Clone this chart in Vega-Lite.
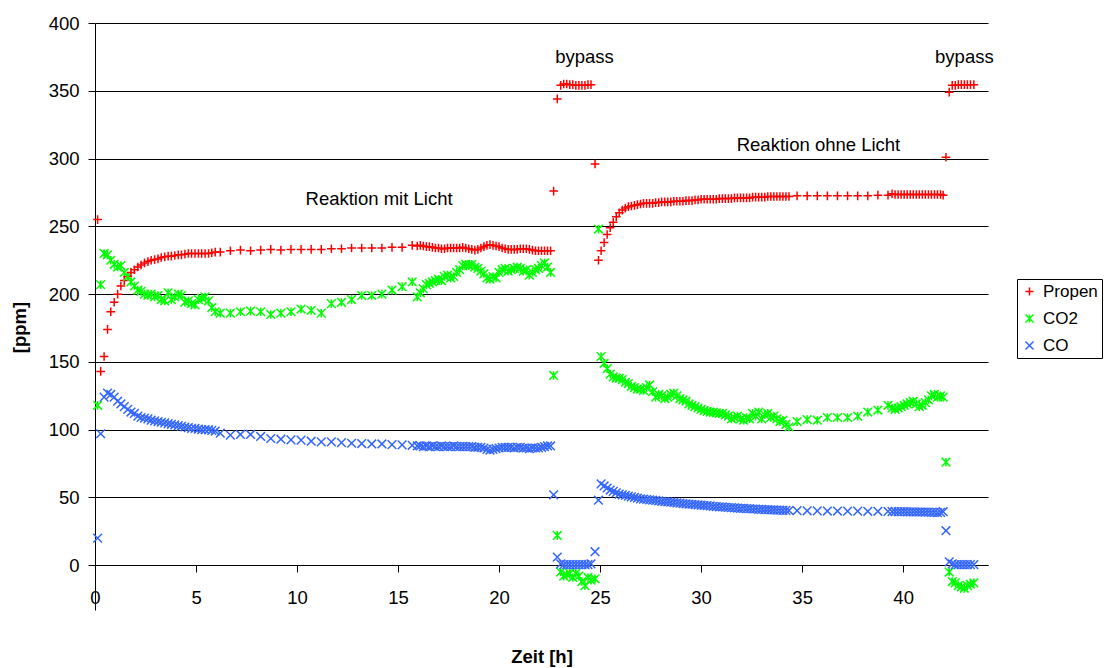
{
"$schema":"https://vega.github.io/schema/vega-lite/v6.json",
"width":893,"height":587,
"autosize":{"type":"none"},
"padding":{"left":95,"top":23,"right":118,"bottom":58},
"background":"white",
"config":{"view":{"stroke":null},"font":"Liberation Sans"},
"datasets":{
"meas":[
{"t":0.13,"Propen":255,"CO2":118,"CO":20},
{"t":0.28,"Propen":143,"CO2":207,"CO":97},
{"t":0.45,"Propen":154,"CO2":230,"CO":124},
{"t":0.62,"Propen":174,"CO2":229,"CO":127},
{"t":0.78,"Propen":187,"CO2":225,"CO":126},
{"t":0.95,"Propen":194,"CO2":222,"CO":124},
{"t":1.12,"Propen":200,"CO2":220,"CO":121},
{"t":1.28,"Propen":206,"CO2":221,"CO":119},
{"t":1.45,"Propen":210,"CO2":216,"CO":117},
{"t":1.62,"Propen":213,"CO2":213,"CO":115},
{"t":1.78,"Propen":216,"CO2":209,"CO":113},
{"t":1.95,"Propen":218,"CO2":206,"CO":112},
{"t":2.12,"Propen":220,"CO2":203,"CO":110},
{"t":2.28,"Propen":221.5,"CO2":202,"CO":109},
{"t":2.45,"Propen":223,"CO2":200,"CO":108.5},
{"t":2.62,"Propen":224,"CO2":199,"CO":108},
{"t":2.78,"Propen":225,"CO2":200,"CO":107},
{"t":2.95,"Propen":225.5,"CO2":198,"CO":106.5},
{"t":3.12,"Propen":226,"CO2":199,"CO":106},
{"t":3.28,"Propen":227,"CO2":196,"CO":105.5},
{"t":3.45,"Propen":227.5,"CO2":195,"CO":105},
{"t":3.62,"Propen":228,"CO2":201,"CO":104.5},
{"t":3.78,"Propen":228,"CO2":196,"CO":104},
{"t":3.95,"Propen":228.5,"CO2":198,"CO":103.5},
{"t":4.12,"Propen":229,"CO2":200,"CO":103},
{"t":4.28,"Propen":229,"CO2":199,"CO":102.5},
{"t":4.45,"Propen":229.5,"CO2":194,"CO":102},
{"t":4.62,"Propen":230,"CO2":195,"CO":101.5},
{"t":4.78,"Propen":230,"CO2":193,"CO":101},
{"t":4.95,"Propen":230,"CO2":192,"CO":101},
{"t":5.12,"Propen":230,"CO2":196,"CO":100.5},
{"t":5.28,"Propen":230,"CO2":197,"CO":100},
{"t":5.45,"Propen":230,"CO2":198,"CO":100},
{"t":5.62,"Propen":230,"CO2":195,"CO":100},
{"t":5.78,"Propen":230.5,"CO2":190,"CO":99.5},
{"t":5.95,"Propen":231,"CO2":187,"CO":99},
{"t":6.2,"Propen":231,"CO2":186,"CO":97.5},
{"t":6.7,"Propen":232,"CO2":186,"CO":96},
{"t":7.2,"Propen":232.5,"CO2":187,"CO":96.5},
{"t":7.7,"Propen":232,"CO2":187.5,"CO":96.5},
{"t":8.2,"Propen":232.5,"CO2":187,"CO":95},
{"t":8.7,"Propen":233,"CO2":185,"CO":93.5},
{"t":9.2,"Propen":232.5,"CO2":186,"CO":93},
{"t":9.7,"Propen":233,"CO2":187,"CO":92.5},
{"t":10.2,"Propen":233,"CO2":189,"CO":92.3},
{"t":10.7,"Propen":233,"CO2":188,"CO":91.5},
{"t":11.2,"Propen":233,"CO2":186,"CO":91},
{"t":11.7,"Propen":233.5,"CO2":193,"CO":91},
{"t":12.2,"Propen":233.5,"CO2":194,"CO":90.5},
{"t":12.7,"Propen":234,"CO2":196,"CO":90},
{"t":13.2,"Propen":234,"CO2":199,"CO":89.8},
{"t":13.7,"Propen":234,"CO2":199,"CO":89.5},
{"t":14.2,"Propen":234,"CO2":200,"CO":89.5},
{"t":14.7,"Propen":234.5,"CO2":203,"CO":89},
{"t":15.2,"Propen":234.5,"CO2":205.5,"CO":88.8},
{"t":15.7,"Propen":236,"CO2":209,"CO":88.5},
{"t":15.95,"Propen":235.5,"CO2":198,"CO":88},
{"t":16.1,"Propen":236,"CO2":201,"CO":88},
{"t":16.25,"Propen":235.5,"CO2":204,"CO":87.5},
{"t":16.4,"Propen":235,"CO2":207,"CO":88},
{"t":16.55,"Propen":235,"CO2":208,"CO":87.5},
{"t":16.7,"Propen":234.5,"CO2":209,"CO":88},
{"t":16.85,"Propen":234,"CO2":210,"CO":87.5},
{"t":17.0,"Propen":234,"CO2":211,"CO":87.5},
{"t":17.15,"Propen":233.5,"CO2":210,"CO":88},
{"t":17.3,"Propen":233.5,"CO2":213,"CO":87.5},
{"t":17.45,"Propen":234,"CO2":214,"CO":87.5},
{"t":17.6,"Propen":234,"CO2":212,"CO":87.5},
{"t":17.75,"Propen":234,"CO2":213,"CO":88},
{"t":17.9,"Propen":234,"CO2":216,"CO":87.5},
{"t":18.05,"Propen":234,"CO2":218,"CO":87.5},
{"t":18.2,"Propen":234.5,"CO2":221,"CO":87.5},
{"t":18.35,"Propen":234,"CO2":222,"CO":87.5},
{"t":18.5,"Propen":233.5,"CO2":221,"CO":87.5},
{"t":18.65,"Propen":233,"CO2":222,"CO":87.5},
{"t":18.8,"Propen":232.5,"CO2":220,"CO":87},
{"t":18.95,"Propen":233,"CO2":219,"CO":87},
{"t":19.1,"Propen":234,"CO2":217,"CO":87},
{"t":19.25,"Propen":235,"CO2":215,"CO":86.5},
{"t":19.4,"Propen":236,"CO2":212,"CO":85.5},
{"t":19.55,"Propen":236.5,"CO2":211,"CO":85},
{"t":19.7,"Propen":236,"CO2":213,"CO":85.5},
{"t":19.85,"Propen":235.5,"CO2":212,"CO":86},
{"t":20.0,"Propen":235,"CO2":216,"CO":86.5},
{"t":20.15,"Propen":234,"CO2":218,"CO":87},
{"t":20.3,"Propen":233.5,"CO2":219,"CO":87},
{"t":20.45,"Propen":233,"CO2":217,"CO":87},
{"t":20.6,"Propen":233,"CO2":218,"CO":87},
{"t":20.75,"Propen":233,"CO2":219,"CO":86.5},
{"t":20.9,"Propen":233,"CO2":220,"CO":87},
{"t":21.05,"Propen":233.5,"CO2":219,"CO":87},
{"t":21.2,"Propen":233.5,"CO2":217,"CO":86.5},
{"t":21.35,"Propen":233.5,"CO2":218,"CO":86.5},
{"t":21.5,"Propen":233,"CO2":214,"CO":86},
{"t":21.65,"Propen":232.5,"CO2":216,"CO":86.5},
{"t":21.8,"Propen":232,"CO2":218,"CO":86.5},
{"t":21.95,"Propen":232,"CO2":219,"CO":86.5},
{"t":22.1,"Propen":232,"CO2":221,"CO":87},
{"t":22.25,"Propen":232,"CO2":223,"CO":87.5},
{"t":22.4,"Propen":232,"CO2":220,"CO":88},
{"t":22.55,"Propen":232,"CO2":216,"CO":88},
{"t":22.7,"Propen":276,"CO2":140,"CO":52},
{"t":22.88,"Propen":344,"CO2":22,"CO":6},
{"t":23.05,"Propen":354,"CO2":-5,"CO":1},
{"t":23.2,"Propen":355,"CO2":-8,"CO":0.5},
{"t":23.35,"Propen":355,"CO2":-7,"CO":0.5},
{"t":23.5,"Propen":354.5,"CO2":-6,"CO":0.5},
{"t":23.65,"Propen":354.5,"CO2":-9,"CO":0.5},
{"t":23.8,"Propen":354,"CO2":-6,"CO":0.5},
{"t":23.95,"Propen":354,"CO2":-8,"CO":0.5},
{"t":24.1,"Propen":354,"CO2":-12,"CO":0.5},
{"t":24.25,"Propen":354,"CO2":-15,"CO":0.5},
{"t":24.4,"Propen":354.5,"CO2":-9,"CO":0.5},
{"t":24.55,"Propen":354.5,"CO2":-11,"CO":1},
{"t":24.75,"Propen":296,"CO2":-10,"CO":10},
{"t":24.92,"Propen":225,"CO2":248,"CO":48},
{"t":25.05,"Propen":232,"CO2":154,"CO":60},
{"t":25.2,"Propen":238,"CO2":149,"CO":58.5},
{"t":25.35,"Propen":244,"CO2":145,"CO":57},
{"t":25.5,"Propen":249,"CO2":141,"CO":55.5},
{"t":25.65,"Propen":253,"CO2":139,"CO":54.5},
{"t":25.8,"Propen":257,"CO2":138,"CO":53.5},
{"t":25.95,"Propen":260,"CO2":138,"CO":52.5},
{"t":26.1,"Propen":262,"CO2":137,"CO":52},
{"t":26.25,"Propen":263.5,"CO2":135,"CO":51.5},
{"t":26.4,"Propen":264.5,"CO2":134,"CO":51},
{"t":26.55,"Propen":265,"CO2":132,"CO":50.5},
{"t":26.7,"Propen":265.5,"CO2":131,"CO":50},
{"t":26.85,"Propen":266,"CO2":130,"CO":49.5},
{"t":27.0,"Propen":266.5,"CO2":130,"CO":49},
{"t":27.15,"Propen":267,"CO2":129,"CO":48.8},
{"t":27.3,"Propen":267,"CO2":131,"CO":48.5},
{"t":27.45,"Propen":267,"CO2":133,"CO":48.2},
{"t":27.6,"Propen":267,"CO2":128,"CO":48},
{"t":27.75,"Propen":267.5,"CO2":124,"CO":47.8},
{"t":27.9,"Propen":267.5,"CO2":126,"CO":47.5},
{"t":28.05,"Propen":268,"CO2":125,"CO":47.2},
{"t":28.2,"Propen":268,"CO2":123,"CO":47},
{"t":28.35,"Propen":268,"CO2":124,"CO":46.8},
{"t":28.5,"Propen":268,"CO2":126,"CO":46.5},
{"t":28.65,"Propen":268.5,"CO2":127,"CO":46.3},
{"t":28.8,"Propen":268.5,"CO2":125,"CO":46},
{"t":28.95,"Propen":268.5,"CO2":123,"CO":45.8},
{"t":29.1,"Propen":268.5,"CO2":122,"CO":45.5},
{"t":29.25,"Propen":269,"CO2":121,"CO":45.3},
{"t":29.4,"Propen":269,"CO2":119,"CO":45.1},
{"t":29.55,"Propen":269,"CO2":118,"CO":45},
{"t":29.7,"Propen":269.5,"CO2":117,"CO":44.8},
{"t":29.85,"Propen":269.5,"CO2":116,"CO":44.5},
{"t":30.0,"Propen":270,"CO2":115,"CO":44.3},
{"t":30.15,"Propen":270,"CO2":114,"CO":44.1},
{"t":30.3,"Propen":270,"CO2":113.5,"CO":44},
{"t":30.45,"Propen":270,"CO2":113,"CO":43.8},
{"t":30.6,"Propen":270,"CO2":113,"CO":43.5},
{"t":30.75,"Propen":270,"CO2":112.5,"CO":43.3},
{"t":30.9,"Propen":270.5,"CO2":112,"CO":43.1},
{"t":31.05,"Propen":270.5,"CO2":112,"CO":43},
{"t":31.2,"Propen":270.5,"CO2":111,"CO":42.8},
{"t":31.35,"Propen":270.5,"CO2":110,"CO":42.6},
{"t":31.5,"Propen":270.5,"CO2":108,"CO":42.5},
{"t":31.65,"Propen":271,"CO2":109,"CO":42.4},
{"t":31.8,"Propen":271,"CO2":110,"CO":42.2},
{"t":31.95,"Propen":271,"CO2":108,"CO":42},
{"t":32.1,"Propen":271,"CO2":107,"CO":42},
{"t":32.25,"Propen":271,"CO2":109,"CO":41.8},
{"t":32.4,"Propen":271,"CO2":108,"CO":41.7},
{"t":32.55,"Propen":271.5,"CO2":112,"CO":41.5},
{"t":32.7,"Propen":271.5,"CO2":110,"CO":41.5},
{"t":32.85,"Propen":271.5,"CO2":113,"CO":41.3},
{"t":33.0,"Propen":271.5,"CO2":108,"CO":41.2},
{"t":33.15,"Propen":271.5,"CO2":111,"CO":41},
{"t":33.3,"Propen":272,"CO2":112,"CO":41},
{"t":33.45,"Propen":272,"CO2":109,"CO":40.9},
{"t":33.6,"Propen":272,"CO2":110,"CO":40.8},
{"t":33.75,"Propen":272,"CO2":108,"CO":40.7},
{"t":33.9,"Propen":272,"CO2":106,"CO":40.6},
{"t":34.05,"Propen":272,"CO2":107,"CO":40.5},
{"t":34.2,"Propen":272,"CO2":104,"CO":40.5},
{"t":34.35,"Propen":272,"CO2":102,"CO":40.4},
{"t":34.75,"Propen":272.5,"CO2":106,"CO":40.3},
{"t":35.25,"Propen":272.5,"CO2":107.5,"CO":40.2},
{"t":35.75,"Propen":272.5,"CO2":107,"CO":40.1},
{"t":36.25,"Propen":272.5,"CO2":109,"CO":40},
{"t":36.75,"Propen":272.5,"CO2":109,"CO":40},
{"t":37.25,"Propen":272.5,"CO2":109,"CO":39.9},
{"t":37.75,"Propen":272.5,"CO2":110,"CO":39.9},
{"t":38.25,"Propen":272.5,"CO2":113,"CO":39.8},
{"t":38.75,"Propen":273,"CO2":114.5,"CO":39.8},
{"t":39.25,"Propen":273,"CO2":118,"CO":39.7},
{"t":39.45,"Propen":274,"CO2":116,"CO":39.6},
{"t":39.6,"Propen":273.5,"CO2":115,"CO":39.6},
{"t":39.75,"Propen":273.5,"CO2":116,"CO":39.5},
{"t":39.9,"Propen":273.5,"CO2":117,"CO":39.5},
{"t":40.05,"Propen":273.5,"CO2":118,"CO":39.5},
{"t":40.2,"Propen":273.5,"CO2":119,"CO":39.4},
{"t":40.35,"Propen":273.5,"CO2":120,"CO":39.4},
{"t":40.5,"Propen":273.5,"CO2":121,"CO":39.4},
{"t":40.65,"Propen":273.5,"CO2":119,"CO":39.3},
{"t":40.8,"Propen":273.5,"CO2":117,"CO":39.3},
{"t":40.95,"Propen":273.5,"CO2":118,"CO":39.3},
{"t":41.1,"Propen":273.5,"CO2":120,"CO":39.2},
{"t":41.25,"Propen":273.5,"CO2":122,"CO":39.2},
{"t":41.4,"Propen":273.5,"CO2":125,"CO":39},
{"t":41.55,"Propen":273.5,"CO2":126,"CO":39},
{"t":41.7,"Propen":273.5,"CO2":124,"CO":38.8},
{"t":41.85,"Propen":273.5,"CO2":125,"CO":39},
{"t":41.98,"Propen":273,"CO2":124,"CO":39.5},
{"t":42.12,"Propen":301,"CO2":76,"CO":25.5},
{"t":42.28,"Propen":349,"CO2":-5,"CO":2.5},
{"t":42.43,"Propen":354,"CO2":-12,"CO":1},
{"t":42.58,"Propen":354,"CO2":-13,"CO":0.5},
{"t":42.73,"Propen":354.5,"CO2":-15,"CO":0.5},
{"t":42.88,"Propen":354.5,"CO2":-16,"CO":0.5},
{"t":43.03,"Propen":354.5,"CO2":-17,"CO":0.5},
{"t":43.18,"Propen":354.5,"CO2":-15,"CO":0.5},
{"t":43.33,"Propen":354.5,"CO2":-14,"CO":0.5},
{"t":43.5,"Propen":354.5,"CO2":-13,"CO":0.5}
],
"notes":[
{"x":24.23,"y":370.8,"label":"bypass"},
{"x":43.03,"y":370.8,"label":"bypass"},
{"x":14.06,"y":266.1,"label":"Reaktion mit Licht"},
{"x":35.81,"y":305.8,"label":"Reaktion ohne Licht"}
]
},
"layer":[
{
"data":{"name":"meas"},
"transform":[{"fold":["Propen","CO2","CO"],"as":["series","ppm"]}],
"mark":{"type":"point","filled":false,"size":75,"strokeWidth":1.5,"opacity":1},
"encoding":{
"x":{"field":"t","type":"quantitative","scale":{"domain":[0,44.2],"nice":false,"zero":false},
"axis":{"values":[0,5,10,15,20,25,30,35,40],"grid":false,"offset":-45,"tickSize":7,"tickColor":"#000","domainColor":"#000","labelPadding":16,"labelFontSize":18.5,"labelColor":"#000","labelFlush":false,"labelOverlap":false,"title":"Zeit [h]","titleFontSize":18.5,"titleFontWeight":"bold","titleColor":"#000","titleY":97,"titleBaseline":"alphabetic"}},
"y":{"field":"ppm","type":"quantitative","scale":{"domain":[-33,400],"nice":false,"zero":false},
"axis":{"values":[0,50,100,150,200,250,300,350,400],"grid":true,"gridColor":"#000","gridWidth":1,"gridOpacity":1,"tickSize":7,"tickColor":"#000","domainColor":"#000","labelPadding":9,"labelFontSize":18.5,"labelColor":"#000","labelFlush":false,"labelOverlap":false,"title":"[ppm]","titleFontSize":18.5,"titleFontWeight":"bold","titleColor":"#000","titleX":-76,"titleY":304,"titleBaseline":"middle","titleAlign":"center","titleAngle":270}},
"color":{"field":"series","type":"nominal","scale":{"domain":["Propen","CO2","CO"],"range":["#ff0000","#00ff00","#3366ff"]},
"legend":{"title":null,"orient":"none","legendX":922,"legendY":256,"strokeColor":"#000","fillColor":"#fff","padding":4,"rowPadding":9,"labelFontSize":17,"labelColor":"#000","labelOffset":5,"symbolSize":64,"symbolStrokeWidth":1.5}},
"shape":{"field":"series","type":"nominal","scale":{"domain":["Propen","CO2","CO"],"range":["M-1,0L1,0M0,-1L0,1","M-1,-1L1,1M-1,1L1,-1M0,-1L0,1","M-1,-1L1,1M-1,1L1,-1"]},
"legend":{"title":null,"orient":"none","legendX":922,"legendY":256,"strokeColor":"#000","fillColor":"#fff","padding":4,"rowPadding":9,"labelFontSize":17,"labelColor":"#000","labelOffset":5,"symbolSize":64,"symbolStrokeWidth":1.5}}
}
},
{
"data":{"name":"notes"},
"mark":{"type":"text","fontSize":18.5,"baseline":"alphabetic","align":"center","color":"#000"},
"encoding":{
"x":{"field":"x","type":"quantitative"},
"y":{"field":"y","type":"quantitative"},
"text":{"field":"label","type":"nominal"}
}
}
]
}
